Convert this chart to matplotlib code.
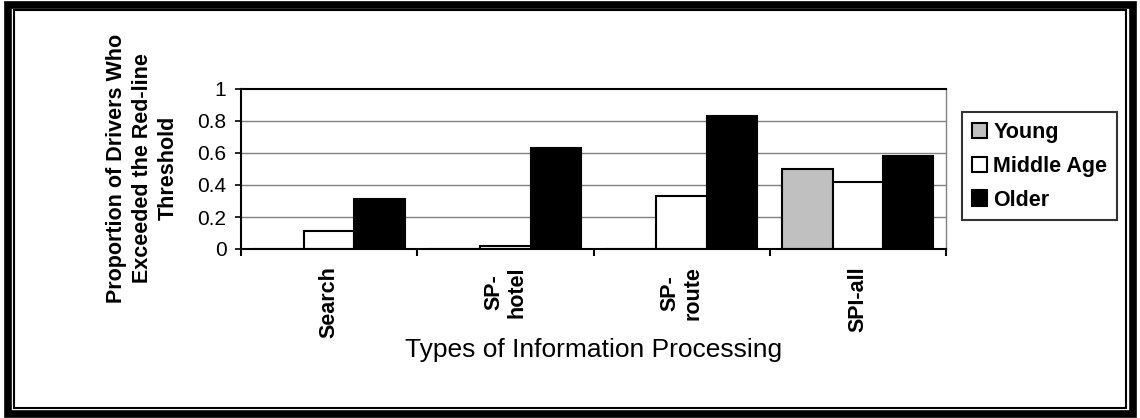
import matplotlib
matplotlib.use("Agg")
import matplotlib.pyplot as plt
import numpy as np
from matplotlib.patches import Rectangle

plt.rcParams['font.family'] = ['Liberation Sans', 'DejaVu Sans']

categories = ["Search", "SP-\nhotel", "SP-\nroute", "SPI-all"]
series_names = ["Young", "Middle Age", "Older"]
young = [0.0, 0.0, 0.0, 0.50]
middle = [0.11, 0.02, 0.33, 0.42]
older = [0.31, 0.63, 0.83, 0.58]
yticks = [0, 0.2, 0.4, 0.6, 0.8, 1]
ytick_labels = ["0", "0.2", "0.4", "0.6", "0.8", "1"]

W, H = 1140, 418
fig = plt.figure(figsize=(W / 100, H / 100), dpi=100)

# double frame
fig.patches.append(Rectangle((7.5 / W, 4 / H), (W - 15) / W, (H - 8.5) / H,
                             transform=fig.transFigure, fill=False,
                             edgecolor='black', linewidth=5.5, zorder=0))
fig.patches.append(Rectangle((14 / W, 10.5 / H), (W - 28) / W, (H - 20.5) / H,
                             transform=fig.transFigure, fill=False,
                             edgecolor='black', linewidth=1.5, zorder=0))

x0, x1 = 241, 946
y_top, y_bot = 89, 249
ax = fig.add_axes([x0 / W, 1 - y_bot / H, (x1 - x0) / W, (y_bot - y_top) / H])

n = len(categories)
x = np.arange(n)
bw = 1 / 3.5
colors = ['#C0C0C0', 'white', 'black']
for i, (vals, c, name) in enumerate(zip([young, middle, older], colors, series_names)):
    ax.bar(x + (i - 1) * bw, vals, width=bw, color=c, edgecolor='black',
           linewidth=1.5, label=name, zorder=3)

ax.set_xlim(-0.5, n - 0.5)
ax.set_ylim(0, 1)
ax.set_yticks(yticks)
ax.set_yticklabels(ytick_labels, fontsize=15)
for yv in yticks[1:-1]:
    ax.axhline(yv, color='#808080', linewidth=1, zorder=1)

ax.set_xticks(np.arange(n + 1) - 0.5)
ax.set_xticklabels([])
ax.tick_params(axis='x', direction='out', length=5, width=1.5)
ax.tick_params(axis='y', direction='out', length=4.5, width=1.2, pad=6)
for i, lab in enumerate(categories):
    ax.text(i, -0.11, lab, rotation=90, ha='center', va='top', multialignment='center',
            fontsize=15.5, fontweight='bold', linespacing=1.1,
            transform=ax.get_xaxis_transform())

ax.spines['top'].set_color('black')
ax.spines['top'].set_linewidth(1.5)
ax.spines['right'].set_color('#808080')
ax.spines['right'].set_linewidth(1)
ax.spines['left'].set_linewidth(1.5)
ax.spines['bottom'].set_linewidth(1.5)
ax.spines['bottom'].set_zorder(4)

fig.text(142 / W, 1 - 168 / H, "Proportion of Drivers Who\nExceeded the Red-line\nThreshold",
         rotation=90, ha='center', va='center', multialignment='center',
         fontsize=15.5, fontweight='bold', linespacing=1.3)

fig.text((x0 + x1) / 2 / W, 1 - 350 / H, "Types of Information Processing",
         ha='center', va='center', fontsize=19)

leg = fig.legend(loc='upper left', bbox_to_anchor=(962 / W, 1 - 112 / H),
                 frameon=True, fancybox=False, edgecolor='black',
                 prop={'weight': 'bold', 'size': 15.5}, handlelength=0.7,
                 handleheight=0.7, handletextpad=0.3, borderpad=0.45,
                 labelspacing=0.6, borderaxespad=0)
leg.get_frame().set_linewidth(1.5)

fig.savefig("out.png", dpi=100)
